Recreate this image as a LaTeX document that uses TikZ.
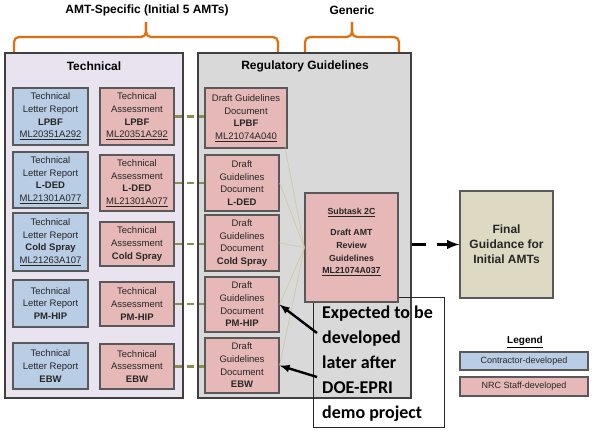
\documentclass[tikz,border=0pt]{standalone}
\usepackage{fontspec}
\setmainfont{Liberation Sans}
\newfontfamily\calloutfont{Carlito}
\usetikzlibrary{arrows}

\definecolor{techblue}{RGB}{185,205,229}
\definecolor{nrcpink}{RGB}{230,185,184}
\definecolor{techlav}{RGB}{232,227,239}
\definecolor{reggray}{RGB}{217,217,217}
\definecolor{finaltan}{RGB}{221,217,195}
\definecolor{braceorange}{RGB}{228,108,10}
\definecolor{linkolive}{RGB}{140,140,80}
\definecolor{fanline}{RGB}{205,200,155}
\definecolor{boxline}{RGB}{89,89,89}

\tikzset{
  box/.style={draw=boxline, line width=1.1pt, align=center, inner sep=1pt,
    text=black!85, font=\fontsize{9.5}{12.7}\selectfont},
  contr/.style={box, fill=techblue},
  staff/.style={box, fill=nrcpink},
  panel/.style={draw=black!75, line width=1.6pt},
  ptitle/.style={font=\bfseries\fontsize{12}{14}\selectfont},
  orbrace/.style={draw=braceorange, line width=2.2pt, rounded corners=5pt},
  link/.style={draw=linkolive, line width=2.6pt, dash pattern=on 7pt off 5pt},
  fan/.style={draw=fanline, line width=0.6pt},
  calarrow/.style={-latex, line width=2.4pt},
  goarrow/.style={-latex, line width=3.2pt, dash pattern=on 14pt off 11pt}
}

\begin{document}
\begin{tikzpicture}[x=1pt,y=-1pt]
  \useasboundingbox (0,0) rectangle (598,431);

  % braces
  \node[ptitle] (amt) at (147,10) {AMT-Specific (Initial 5 AMTs)};
  \node[ptitle] (gen) at (352,10) {Generic};
  \draw[orbrace] (14,53) |- (146,37) -- (146,22);
  \draw[orbrace] (146,22) -- (146,37) -| (278,53);
  \draw[orbrace] (305,53) |- (352,37) -- (352,22);
  \draw[orbrace] (352,22) -- (352,37) -| (399,53);

  % panels
  \node[panel, fill=techlav, minimum width=178pt, minimum height=345pt] (tech) at (94,225.5) {};
  \node[panel, fill=reggray, minimum width=213pt, minimum height=345pt] (reg) at (304.5,225.5) {};
  \node[ptitle] (techT) at (94,66) {Technical};
  \node[ptitle] (regT) at (305,66) {Regulatory Guidelines};

  % technical letter reports
  \node[contr, minimum width=75pt, minimum height=57pt] (T1) at (50.5,116.5) {Technical\\Letter Report\\\textbf{LPBF}\\\underline{ML20351A292}};
  \node[contr, minimum width=75pt, minimum height=56pt] (T2) at (50.5,180) {Technical\\Letter Report\\\textbf{L-DED}\\\underline{ML21301A077}};
  \node[contr, minimum width=75pt, minimum height=58pt] (T3) at (50.5,242) {Technical\\Letter Report\\\textbf{Cold Spray}\\\underline{ML21263A107}};
  \node[contr, minimum width=75pt, minimum height=47pt] (T4) at (50.5,303.5) {Technical\\Letter Report\\\textbf{PM-HIP}};
  \node[contr, minimum width=75pt, minimum height=46pt] (T5) at (50.5,366) {Technical\\Letter Report\\\textbf{EBW}};

  % technical assessments
  \node[staff, minimum width=74pt, minimum height=57pt] (A1) at (137,116.5) {Technical\\Assessment\\\textbf{LPBF}\\\underline{ML20351A292}};
  \node[staff, minimum width=74pt, minimum height=56pt] (A2) at (137,183) {Technical\\Assessment\\\textbf{L-DED}\\\underline{ML21301A077}};
  \node[staff, minimum width=74pt, minimum height=44pt] (A3) at (137,244) {Technical\\Assessment\\\textbf{Cold Spray}};
  \node[staff, minimum width=74pt, minimum height=44pt] (A4) at (137,304) {Technical\\Assessment\\\textbf{PM-HIP}};
  \node[staff, minimum width=74pt, minimum height=45pt] (A5) at (137,366.5) {Technical\\Assessment\\\textbf{EBW}};

  % draft guidelines
  \node[staff, minimum width=82pt, minimum height=60pt] (D1) at (246,118) {Draft Guidelines\\Document\\\textbf{LPBF}\\\underline{ML21074A040}};
  \node[staff, minimum width=74pt, minimum height=56pt] (D2) at (242,183) {Draft\\Guidelines\\Document\\\textbf{L-DED}};
  \node[staff, minimum width=74pt, minimum height=56pt] (D3) at (242,243) {Draft\\Guidelines\\Document\\\textbf{Cold Spray}};
  \node[staff, minimum width=74pt, minimum height=55pt] (D4) at (242,304.5) {Draft\\Guidelines\\Document\\\textbf{PM-HIP}};
  \node[staff, minimum width=74pt, minimum height=55pt] (D5) at (242,365.5) {Draft\\Guidelines\\Document\\\textbf{EBW}};

  % olive links
  \draw[link] (A1.east) -- (A1.east -| D1.west);
  \draw[link] (A2.east) -- (A2.east -| D2.west);
  \draw[link] (A3.east) -- (A3.east -| D3.west);
  \draw[link] (A4.east) -- (A4.east -| D4.west);
  \draw[link] (A5.east) -- (A5.east -| D5.west);

  % callout frame
  \node[draw=black!85, line width=0.9pt, minimum width=131pt, minimum height=130pt] (C) at (378.5,362) {};

  % subtask and final
  \node[staff, minimum width=93pt, minimum height=109pt, font=\bfseries\fontsize{8.8}{12.7}\selectfont] (S) at (351.5,247.5) {\underline{Subtask 2C}\\[8pt]Draft AMT\\Review\\Guidelines\\\underline{ML21074A037}\\\mbox{}};
  \node[box, fill=finaltan, minimum width=93pt, minimum height=107pt, font=\bfseries\fontsize{12}{15}\selectfont] (F) at (506.5,244.5) {Final\\Guidance for\\Initial AMTs};

  % fan
  \coordinate (f1) at (281,127);
  \draw[fan] (S.west) -- (f1);
  \draw[fan] (S.west) -- (D2.east);
  \draw[fan] (S.west) -- (D3.east);
  \draw[fan] (S.west) -- (D4.east);
  \draw[fan] (S.west) -- (D5.east);

  \draw[goarrow] (F.west -| reg.east) -- (F.west);

  % callout
  \node[anchor=west, align=left, inner sep=0pt, font=\calloutfont\bfseries\fontsize{18}{25}\selectfont] (Ct) at (322,364) {Expected to be\\developed\\later after\\DOE-EPRI\\demo project};
  \coordinate (c1) at (317,333);
  \coordinate (c2) at (317,377);
  \draw[calarrow] (c1) -- (D4.east);
  \draw[calarrow] (c2) -- (D5.east);

  % legend
  \node[font=\bfseries\fontsize{10}{12}\selectfont] (leg) at (525,342) {\underline{Legend}};
  \node[contr, minimum width=128pt, minimum height=18pt, font=\fontsize{9}{11}\selectfont] (L1) at (524,361) {Contractor-developed};
  \node[staff, minimum width=128pt, minimum height=19pt, font=\fontsize{9}{11}\selectfont] (L2) at (524,386.5) {NRC Staff-developed};
\end{tikzpicture}
\end{document}
